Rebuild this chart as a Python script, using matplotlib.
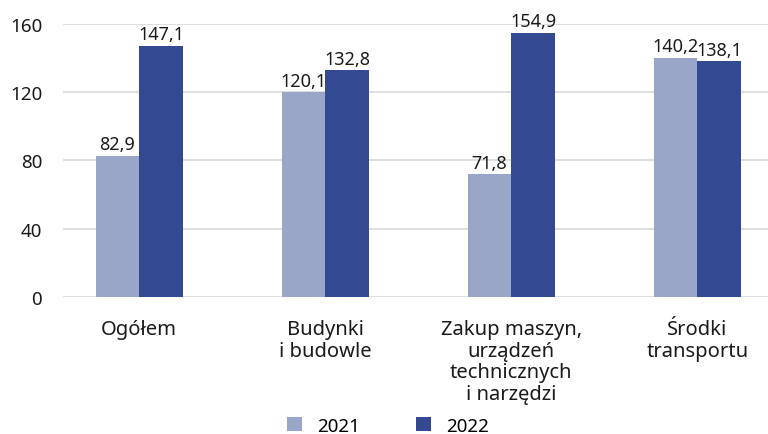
import matplotlib
matplotlib.use('Agg')
import matplotlib.pyplot as plt
import numpy as np

kategorie = ['Ogółem', 'Budynki\ni budowle',
             'Zakup maszyn,\nurządzeń\ntechnicznych\ni narzędzi',
             'Środki\ntransportu']
lata = ['2021', '2022']
v2021 = [82.9, 120.1, 71.8, 140.2]
v2022 = [147.1, 132.8, 154.9, 138.1]
yticks = [0, 40, 80, 120, 160]

plt.rcParams['font.family'] = ['Noto Sans', 'DejaVu Sans']
fs = 13.5

fig = plt.figure(figsize=(7.68, 4.35), dpi=100)
ax = fig.add_axes([0.082, 0.315, 0.918, 0.6275])

x = np.arange(len(kategorie))
w = 0.235
kolory = ['#9AA6C8', '#334A93']
for i, (vals, kol) in enumerate(zip([v2021, v2022], kolory)):
    pos = x + (i - 0.5) * w
    ax.bar(pos, vals, width=w, color=kol, label=lata[i], zorder=3)
    for px, v in zip(pos, vals):
        ax.text(px, v + 1.5, f'{v:.1f}'.replace('.', ','), ha='center', va='bottom',
                fontsize=13, color='#1a1a1a', clip_on=False)

ax.set_xlim(-0.41, 3.38)
ax.set_ylim(0, 160)
ax.set_yticks(yticks)
ax.set_xticks(x)
ax.set_xticklabels(kategorie, fontsize=14.5, color='#1a1a1a', linespacing=1.1)
ax.tick_params(axis='x', length=0, pad=16)
ax.tick_params(axis='y', length=0, pad=15, labelsize=fs, labelcolor='#1a1a1a')
ax.grid(axis='y', color='#d9d9d9', linewidth=1.2, zorder=0)
for s in ax.spines.values():
    s.set_visible(False)

fig.legend(loc='lower center', bbox_to_anchor=(0.505, -0.04), ncol=2, frameon=False,
           fontsize=fs, handlelength=0.8, handleheight=0.8, columnspacing=3.0,
           handletextpad=0.8)

fig.savefig('out.png', dpi=100)
